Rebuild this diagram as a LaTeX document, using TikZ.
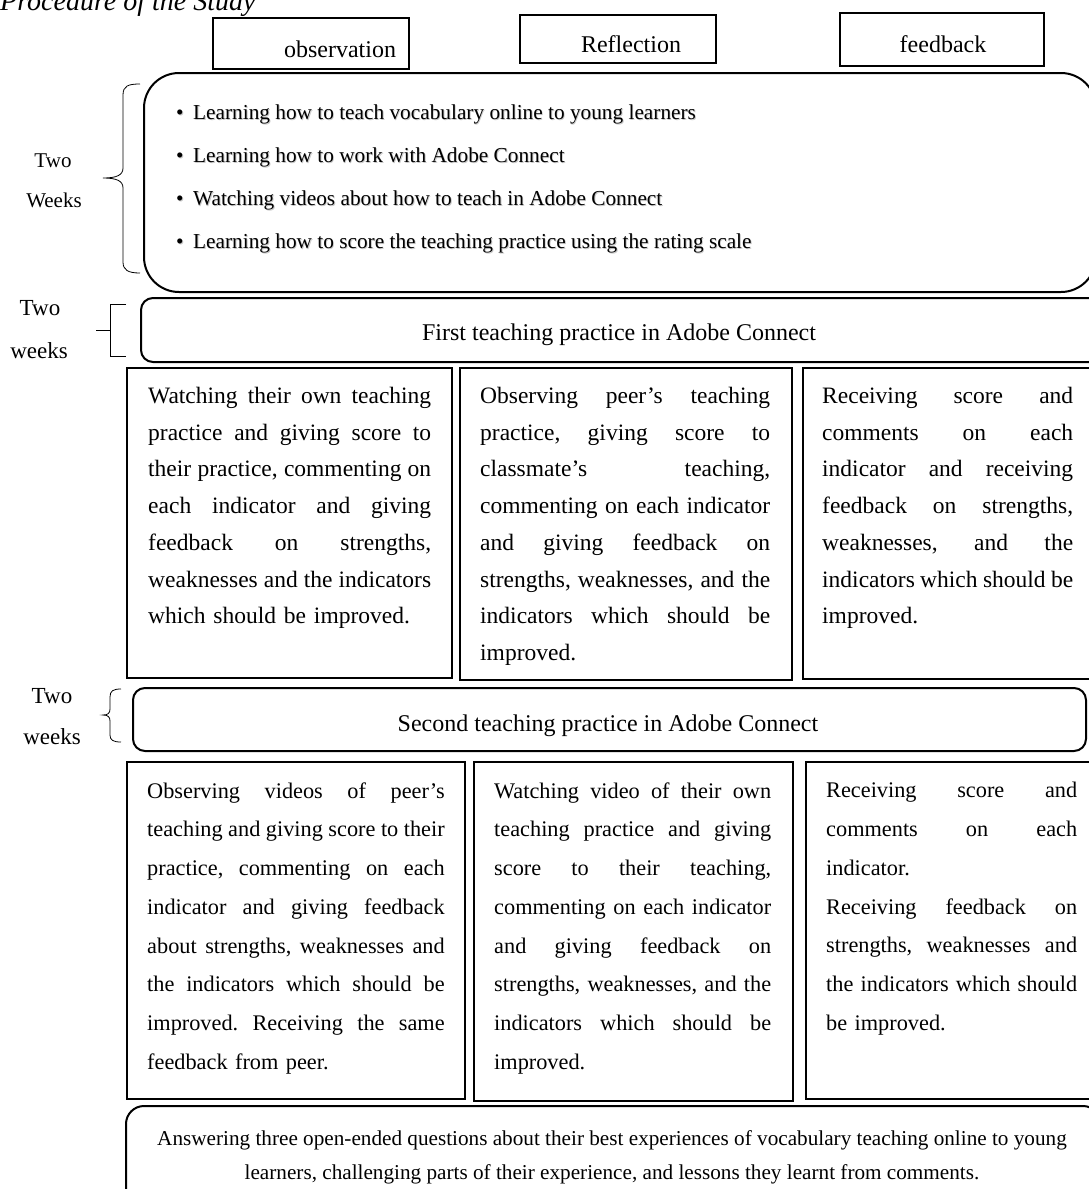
\documentclass[tikz,border=0pt]{standalone}
\usepackage{fontspec}
\setmainfont{Liberation Serif}
\newcommand\jl[1]{\makebox[\hsize][s]{\frenchspacing\spaceskip=0pt\xspaceskip=0pt #1}\\}
\newcommand\bullettext{\noindent
\makebox[17pt][l]{\textbullet}Learning how to teach vocabulary online to young learners\\
\makebox[17pt][l]{\textbullet}Learning how to work with Adobe Connect\\
\makebox[17pt][l]{\textbullet}Watching videos about how to teach in Adobe Connect\\
\makebox[17pt][l]{\textbullet}Learning how to score the teaching practice using the rating scale}
\begin{document}
\begin{tikzpicture}[x=1pt,y=-1pt,
  frame/.style={draw, line width=1.6pt, inner sep=0pt, anchor=north west},
  hdrbox/.style={frame, line width=2pt},
  rbox/.style={frame, line width=2pt, rounded corners=#1},
  hdr/.style={anchor=base, inner sep=0pt, font=\fontsize{24}{28}\selectfont},
  lbl/.style={anchor=base, inner sep=0pt, font=\fontsize{#1}{26}\selectfont},
  body/.style={anchor=north west, inner sep=0pt, align=left},
  rowA/.style={body, font=\fontsize{23.5}{36.7}\selectfont},
  rowB/.style={body, font=\fontsize{22.3}{38.7}\selectfont},
  brace/.style={line width=0.8pt}]
\useasboundingbox (0,0) rectangle (1089,1189);

% title (cut at the top)
\node[anchor=base west, inner sep=0pt, font=\fontsize{28}{30}\selectfont\itshape] (title) at (0,10) {Procedure of the Study};

% header boxes
\node[hdrbox, minimum width=196pt, minimum height=51pt] (hobs) at (212,17) {};
\node[hdrbox, minimum width=196pt, minimum height=48pt] (hrefl) at (519,14) {};
\node[hdrbox, minimum width=204pt, minimum height=53pt] (hfb) at (839,12) {};
\node[hdr] (tobs) at (340,57) {observation};
\node[hdr] (trefl) at (631,52) {Reflection};
\node[hdr] (tfb) at (943,52) {feedback};

% top rounded box with bullets
\node[rbox=35pt, minimum width=952pt, minimum height=219pt] (top) at (143,72) {};
\node[body, text=black!22, font=\fontsize{21.3}{43}\selectfont] (bulshadow) at (176.9,105.4) {\bullettext};
\node[body, font=\fontsize{21.3}{43}\selectfont] (bul) at (176,104.5) {\bullettext};

% labels and braces
\node[lbl=21] (w1a) at (53,167) {Two};
\node[lbl=21] (w1b) at (54,207) {Weeks};
\draw[brace] (140,84) .. controls (128,84) and (123,86) .. (123,95) -- (123,168)
  .. controls (123,175) and (117,178) .. (103,178)
  .. controls (117,178) and (123,181) .. (123,188) -- (123,262)
  .. controls (123,270) and (128,273) .. (140,273);

\node[lbl=23] (w2a) at (40,315) {Two};
\node[lbl=23] (w2b) at (39,358) {weeks};
\draw[brace] (126,304) -- (110,304) -- (110,356) -- (126,356);
\draw[brace] (96,330) -- (110,330);

\node[lbl=23] (w3a) at (52,703) {Two};
\node[lbl=23] (w3b) at (52,744) {weeks};
\draw[brace] (121,689) .. controls (113,689) and (110,691) .. (110,697) -- (110,709)
  .. controls (110,713) and (108,715) .. (103,715)
  .. controls (108,715) and (110,717) .. (110,721) -- (110,735)
  .. controls (110,740) and (113,742) .. (121,742);

% first teaching practice
\node[rbox=12pt, minimum width=960pt, minimum height=64pt] (first) at (140,297) {};
\node[hdr] (tfirst) at (619,340) {First teaching practice in Adobe Connect};

% row 1 boxes
\node[frame, minimum width=325pt, minimum height=310pt] (b11) at (126,367) {};
\node[frame, minimum width=332pt, minimum height=312pt] (b12) at (459,367) {};
\node[frame, minimum width=293pt, minimum height=311pt] (b13) at (802,367) {};

\node[rowA, text width=283pt] (t11) at (148,387) {\noindent
\jl{Watching their own teaching}
\jl{practice and giving score to}
\jl{their practice, commenting on}
\jl{each indicator and giving}
\jl{feedback on strengths,}
\jl{weaknesses and the indicators}
which should be improved.};

\node[rowA, text width=290pt] (t12) at (480,387) {\noindent
\jl{Observing peer's teaching}
\jl{practice, giving score to}
\jl{classmate's teaching,}
\jl{commenting on each indicator}
\jl{and giving feedback on}
\jl{strengths, weaknesses, and the}
\jl{indicators which should be}
improved.};

\node[rowA, text width=251pt] (t13) at (822,387) {\noindent
\jl{Receiving score and}
\jl{comments on each}
\jl{indicator and receiving}
\jl{feedback on strengths,}
\jl{weaknesses, and the}
\jl{indicators which should be}
improved.};

% second teaching practice
\node[rbox=12pt, minimum width=953pt, minimum height=63pt] (second) at (132,687) {};
\node[hdr] (tsecond) at (608,731) {Second teaching practice in Adobe Connect};

% row 2 boxes
\node[frame, minimum width=338pt, minimum height=337pt] (b21) at (126,761) {};
\node[frame, minimum width=319pt, minimum height=339pt] (b22) at (473,761) {};
\node[frame, minimum width=290pt, minimum height=337pt] (b23) at (805,761) {};

\node[rowB, text width=297.5pt] (t21) at (147,782.3) {\noindent
\jl{Observing videos of peer's}
\jl{teaching and giving score to their}
\jl{practice, commenting on each}
\jl{indicator and giving feedback}
\jl{about strengths, weaknesses and}
\jl{the indicators which should be}
\jl{improved. Receiving the same}
feedback from peer.};

\node[rowB, text width=277pt] (t22) at (494,782.3) {\noindent
\jl{Watching video of their own}
\jl{teaching practice and giving}
\jl{score to their teaching,}
\jl{commenting on each indicator}
\jl{and giving feedback on}
\jl{strengths, weaknesses, and the}
\jl{indicators which should be}
improved.};

\node[rowB, text width=251pt] (t23) at (826,782.3) {\noindent
\jl{Receiving score and}
\jl{comments on each}
indicator.\\
\jl{Receiving feedback on}
\jl{strengths, weaknesses and}
\jl{the indicators which should}
be improved.};

% bottom rounded box
\node[rbox=18pt, minimum width=975pt, minimum height=100pt] (bottom) at (125,1105) {};
\node[anchor=north, inner sep=0pt, align=center, font=\fontsize{21.2}{34}\selectfont] (tbottom) at (612,1130.5) {Answering three open-ended questions about their best experiences of vocabulary teaching online to young\\
learners, challenging parts of their experience, and lessons they learnt from comments.};
\end{tikzpicture}
\end{document}
